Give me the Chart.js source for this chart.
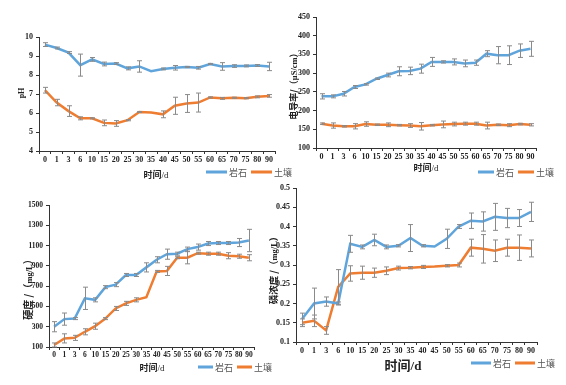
<!DOCTYPE html>
<html><head><meta charset="utf-8">
<script src="https://cdn.jsdelivr.net/npm/chart.js@4.4.1/dist/chart.umd.min.js"></script>
<style>
html,body{margin:0;padding:0;background:#fff;}
body{width:566px;height:385px;position:relative;overflow:hidden;font-family:"Noto Sans CJK SC","Liberation Serif",serif;}
canvas{position:absolute;}
.t{position:absolute;white-space:nowrap;color:#222;font-weight:bold;transform:translate(-50%,-50%);}
.ty{position:absolute;white-space:nowrap;color:#222;font-weight:bold;transform:translate(-50%,-50%) rotate(-90deg);}
.lg{position:absolute;display:flex;align-items:center;transform:translateY(-50%);font-size:9px;color:#555;font-family:"Noto Sans CJK SC",sans-serif;}
.lg span.l{display:inline-block;height:2.5px;}
</style></head>
<body>
<canvas id="c1" width="283" height="190" style="left:0;top:0"></canvas>
<canvas id="c2" width="283" height="190" style="left:283px;top:0"></canvas>
<canvas id="c3" width="283" height="195" style="left:0;top:190px"></canvas>
<canvas id="c4" width="316" height="205" style="left:250px;top:180px"></canvas>

<div class="ty" style="left:21px;top:93px;font-size:8px;font-family:'Liberation Serif',serif;">pH</div>
<div class="ty" style="left:293px;top:84px;font-size:9px;">电导率/（<span style="font-family:'Liberation Serif',serif;font-size:8.5px">μS/cm</span>）</div>
<div class="ty" style="left:27px;top:287px;font-size:10px;">硬度 /（<span style="font-family:'Liberation Serif',serif;font-size:8.5px">mg/L</span>）</div>
<div class="ty" style="left:273px;top:268px;font-size:9.5px;">磷浓度 /（<span style="font-family:'Liberation Serif',serif;font-size:8.5px">mg/L</span>）</div>

<div class="t" style="left:156px;top:174px;font-size:9px;">时间<span style="font-weight:normal;font-family:'Liberation Serif',serif">/d</span></div>
<div class="t" style="left:426px;top:167px;font-size:9px;">时间<span style="font-weight:normal;font-family:'Liberation Serif',serif">/d</span></div>
<div class="t" style="left:152px;top:367px;font-size:9px;">时间<span style="font-weight:normal;font-family:'Liberation Serif',serif">/d</span></div>
<div class="t" style="left:403px;top:364px;font-size:13px;">时间<span style="font-family:'Liberation Serif',serif">/d</span></div>

<div id="legends"></div>

<script>
// ---- data ----
const categories = ['0','1','3','6','10','15','20','25','30','35','40','45','50','55','60','65','70','75','80','90'];
const seriesNames = ['岩石','土壤'];

const phRock    = [9.6,9.42,9.18,8.52,8.82,8.58,8.6,8.35,8.45,8.2,8.32,8.38,8.42,8.38,8.58,8.45,8.47,8.48,8.5,8.45];
const phRockErr = [0.1,0.05,0.05,0.58,0.1,0.1,0.05,0.08,0.3,0,0.05,0.12,0.03,0.07,0.03,0.2,0.07,0.05,0.05,0.22];
const phSoil    = [7.2,6.55,6.1,5.72,5.72,5.48,5.45,5.62,6.05,6.02,5.93,6.38,6.5,6.55,6.82,6.77,6.8,6.78,6.85,6.9];
const phSoilErr = [0.15,0.17,0.28,0.08,0.03,0.15,0.15,0.03,0.02,0,0.18,0.45,0.47,0.5,0.03,0.05,0.03,0.03,0.05,0.07];

const ecRock    = [238,238,245,263,270,285,295,305,306,312,330,330,330,326,328,352,348,348,360,365];
const ecRockErr = [7,4,6,4,2,2,5,12,10,12,12,3,8,9,7,8,23,25,18,20];
const ecSoil    = [165,160,158,158,164,162,162,161,160,158,161,163,164,165,165,160,162,161,164,162];
const ecSoilErr = [2,7,2,7,6,2,5,2,5,10,2,9,5,4,4,9,2,4,2,3];

const hardRock    = [300,375,380,580,565,690,715,810,810,885,960,1015,1020,1065,1085,1120,1125,1125,1130,1150];
const hardRockErr = [50,60,10,110,20,15,20,15,15,45,30,50,15,20,30,20,15,15,40,110];
const hardSoil    = [120,185,190,250,305,380,480,530,565,590,845,850,980,980,1025,1020,1020,1000,995,980];
const hardSoilErr = [20,45,25,30,30,10,20,20,20,0,10,45,10,60,10,15,15,30,20,30];

const pRock    = [0.16,0.2,0.205,0.2,0.355,0.347,0.365,0.347,0.35,0.37,0.35,0.348,0.368,0.4,0.415,0.413,0.425,0.422,0.422,0.438];
const pRockErr = [0.015,0.04,0.012,0.004,0.022,0.005,0.015,0.005,0.003,0.035,0.003,0,0.025,0.005,0.02,0.025,0.035,0.025,0.022,0.025];
const pSoil    = [0.15,0.155,0.13,0.243,0.278,0.28,0.28,0.285,0.292,0.293,0.295,0.296,0.298,0.3,0.345,0.342,0.337,0.345,0.345,0.343];
const pSoilErr = [0.01,0.015,0.01,0.045,0.02,0.017,0.012,0.01,0.005,0.003,0.004,0,0.003,0.005,0.022,0.037,0.028,0.022,0.033,0.022];

const phTicks = [4,10,1];
const ecTicks = [100,450,50];
const hardTicks = [100,1500,200];
const pTicks = [0.1,0.5,0.05];

// ---- drawing ----
const BLUE = '#5fa5dc', ORANGE = '#ee7d31';

const errorBars = {
  id:'errorBars',
  afterDatasetsDraw(chart){
    const ctx = chart.ctx, xs = chart.scales.x, ys = chart.scales.y;
    ctx.save();
    ctx.strokeStyle = '#8a8a8a'; ctx.lineWidth = 1;
    chart.data.datasets.forEach(ds=>{
      ds.data.forEach((v,i)=>{
        const e = ds.errors[i]; if(!e) return;
        const x = Math.round(xs.getPixelForValue(i))+0.5;
        const y1 = ys.getPixelForValue(v+e), y2 = ys.getPixelForValue(v-e);
        ctx.beginPath();
        ctx.moveTo(x,y1); ctx.lineTo(x,y2);
        ctx.moveTo(x-2.5,y1); ctx.lineTo(x+2.5,y1);
        ctx.moveTo(x-2.5,y2); ctx.lineTo(x+2.5,y2);
        ctx.stroke();
      });
    });
    ctx.restore();
  }
};

function make(id, rock, rockErr, soil, soilErr, ticks, g, tickFont, fmt){
  const tf = {family:"'Liberation Serif', serif", size:tickFont, weight:'bold'};
  new Chart(document.getElementById(id), {
    type:'line',
    data:{labels:categories, datasets:[
      {label:seriesNames[0], data:rock, errors:rockErr, borderColor:BLUE, backgroundColor:BLUE, borderWidth:2.5, pointRadius:0, tension:0},
      {label:seriesNames[1], data:soil, errors:soilErr, borderColor:ORANGE, backgroundColor:ORANGE, borderWidth:2.5, pointRadius:0, tension:0}
    ]},
    options:{
      responsive:false, animation:false, devicePixelRatio:1,
      layout:{padding:{top:g.top,right:g.right,bottom:g.bottom,left:0}},
      plugins:{legend:{display:false},tooltip:{enabled:false}},
      scales:{
        x:{offset:true,
           grid:{display:true,drawOnChartArea:false,drawTicks:true,tickLength:3,color:'#333',offset:true},
           border:{display:true,color:'#333',width:1},
           ticks:{autoSkip:false,maxRotation:0,minRotation:0,padding:1,color:'#222',font:tf},
           afterFit(s){s.height=20;}},
        y:{min:ticks[0],max:ticks[1],
           grid:{display:true,drawOnChartArea:false,drawTicks:true,tickLength:3,color:'#333'},
           border:{display:true,color:'#333',width:1},
           ticks:{stepSize:ticks[2],padding:3,color:'#222',font:tf,callback:fmt},
           afterFit(s){s.width=g.yw;}}
      }
    },
    plugins:[errorBars]
  });
}

const f0 = v=>String(Math.round(v));
const f2 = v=>String(Number(v.toFixed(2)));
make('c1', phRock, phRockErr, phSoil, phSoilErr, phTicks, {top:37,right:8,bottom:19,yw:39}, 8, f0);
make('c2', ecRock, ecRockErr, ecSoil, ecSoilErr, ecTicks, {top:17,right:30,bottom:22,yw:33}, 8, f0);
make('c3', hardRock, hardRockErr, hardSoil, hardSoilErr, hardTicks, {top:15,right:29,bottom:18,yw:49}, 7.5, f0);
make('c4', pRock, pRockErr, pSoil, pSoilErr, pTicks, {top:8,right:29,bottom:23,yw:46}, 8, f2);

// legends
const legendSpec = [
  {x:206, y:172, w:21},
  {x:478, y:172, w:16},
  {x:198, y:367, w:15},
  {x:471, y:363, w:20}
];
const lgRoot = document.getElementById('legends');
legendSpec.forEach(s=>{
  const d = document.createElement('div');
  d.className='lg'; d.style.left=s.x+'px'; d.style.top=s.y+'px';
  d.innerHTML = `<span class="l" style="width:${s.w}px;background:${BLUE}"></span><span style="margin:0 4px 0 2px">${seriesNames[0]}</span>`+
                `<span class="l" style="width:${s.w}px;background:${ORANGE}"></span><span style="margin-left:2px">${seriesNames[1]}</span>`;
  lgRoot.appendChild(d);
});
</script>
</body></html>
